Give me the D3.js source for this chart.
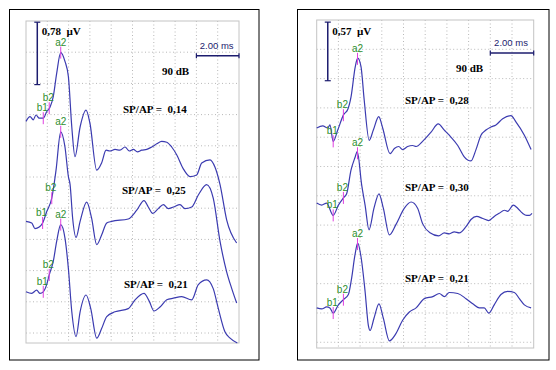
<!DOCTYPE html>
<html>
<head>
<meta charset="utf-8">
<script src="https://cdn.jsdelivr.net/npm/d3@7"></script>
<style>
  html, body { margin: 0; padding: 0; background: #fff; }
  svg { display: block; }
  .serif { font-family: "Liberation Serif", "Times New Roman", serif; font-weight: bold; }
  .sans { font-family: "Liberation Sans", Arial, sans-serif; }
</style>
</head>
<body>
<svg id="chart" width="556" height="370"></svg>
<script>
// time in ms, amplitude in µV (position on the panel's own axis)
const traceA1 = [[0,2.77],[0.19,2.83],[0.34,2.79],[0.47,2.85],[0.62,2.81],[0.81,2.81],[0.97,2.89],[1.13,2.95],[1.28,3.08],[1.44,3.37],[1.63,3.63],[1.83,3.52],[1.99,3.33],[2.15,2.70],[2.30,2.33],[2.54,2.70],[2.82,2.91],[3.00,2.75],[3.32,2.16],[3.55,2.25],[3.76,2.41],[3.94,2.40],[4.18,2.42],[4.41,2.41],[4.65,2.45],[4.85,2.40],[5.04,2.42],[5.23,2.39],[5.43,2.41],[5.67,2.42],[5.90,2.45],[6.14,2.49],[6.37,2.52],[6.61,2.51],[6.84,2.45],[7.08,2.35],[7.38,2.18],[7.70,2.08],[8.01,2.10],[8.25,2.25],[8.64,2.29],[8.87,2.20],[9.11,1.98],[9.42,1.54],[9.89,1.25]];
const traceA2 = [[0,1.52],[0.27,1.50],[0.42,1.43],[0.62,1.45],[0.78,1.50],[0.97,1.64],[1.21,1.81],[1.41,2.16],[1.63,2.64],[1.83,2.45],[1.99,2.08],[2.07,1.98],[2.19,1.56],[2.35,1.32],[2.54,1.52],[2.85,1.76],[3.08,1.56],[3.32,1.23],[3.55,1.35],[3.79,1.50],[4.02,1.52],[4.80,1.55],[5.20,1.66],[5.54,1.78],[5.74,1.70],[5.95,1.62],[6.21,1.68],[6.45,1.73],[6.68,1.68],[6.92,1.70],[7.23,1.73],[7.46,1.68],[7.78,1.70],[8.09,1.85],[8.48,1.98],[8.79,1.81],[9.11,1.27],[9.42,0.89],[9.66,0.68],[9.89,0.50]];
const traceA3 = [[0,0.64],[0.27,0.62],[0.50,0.66],[0.66,0.62],[0.81,0.64],[0.97,0.73],[1.09,0.85],[1.28,1.02],[1.44,1.27],[1.63,1.48],[1.83,1.31],[1.99,0.93],[2.15,0.39],[2.35,0.08],[2.54,0.39],[2.82,0.60],[3.04,0.43],[3.32,0.06],[3.55,0.18],[3.79,0.33],[4.18,0.39],[4.80,0.43],[5.12,0.54],[5.54,0.62],[5.79,0.52],[6.01,0.40],[6.29,0.45],[6.61,0.54],[6.92,0.56],[7.31,0.58],[7.78,0.54],[8.09,0.73],[8.48,0.79],[8.79,0.68],[9.03,0.43],[9.34,0.14],[9.58,0.06],[9.92,0.00]];

const traceB1 = [[0,2.14],[0.28,2.16],[0.51,2.14],[0.61,2.17],[0.76,2.01],[0.97,2.12],[1.24,2.27],[1.43,2.32],[1.58,2.44],[1.78,2.74],[1.89,2.82],[2.04,2.74],[2.19,2.41],[2.42,2.02],[2.61,2.12],[2.86,2.25],[3.04,2.14],[3.38,1.89],[3.58,1.94],[3.78,1.96],[3.96,1.93],[4.19,1.96],[4.42,1.97],[4.58,1.96],[4.88,2.01],[5.27,2.10],[5.60,2.18],[5.88,2.12],[6.11,2.07],[6.50,1.97],[6.80,1.86],[7.11,1.82],[7.34,1.93],[7.57,2.07],[7.80,2.12],[8.03,2.15],[8.26,2.17],[8.57,2.23],[8.95,2.26],[9.18,2.20],[9.57,2.07],[9.88,1.93]];
const traceB2 = [[0,1.41],[0.23,1.39],[0.46,1.41],[0.76,1.29],[1.00,1.39],[1.23,1.46],[1.38,1.50],[1.58,1.73],[1.76,1.85],[1.87,1.91],[2.07,1.59],[2.23,1.39],[2.41,1.15],[2.64,1.36],[2.87,1.50],[3.07,1.36],[3.35,1.10],[3.65,1.20],[4.04,1.36],[4.35,1.42],[4.65,1.36],[4.88,1.21],[5.22,1.12],[5.62,1.09],[5.88,1.12],[6.11,1.11],[6.34,1.13],[6.57,1.12],[6.88,1.18],[7.11,1.25],[7.37,1.28],[7.65,1.26],[7.93,1.24],[8.18,1.28],[8.41,1.31],[8.65,1.34],[8.80,1.33],[9.06,1.39],[9.26,1.36],[9.49,1.31],[9.68,1.29],[9.80,1.29],[9.92,1.31]];
const traceB3 = [[0,0.39],[0.23,0.38],[0.46,0.40],[0.61,0.39],[0.76,0.34],[1.00,0.42],[1.23,0.47],[1.46,0.52],[1.61,0.68],[1.76,0.90],[1.89,1.02],[2.04,0.89],[2.23,0.55],[2.38,0.22],[2.46,0.17],[2.64,0.29],[2.87,0.43],[3.07,0.29],[3.35,0.07],[3.65,0.14],[3.96,0.27],[4.27,0.35],[4.58,0.39],[4.96,0.48],[5.35,0.50],[5.65,0.53],[5.88,0.50],[6.11,0.54],[6.50,0.53],[6.88,0.48],[7.19,0.43],[7.49,0.39],[7.72,0.39],[7.93,0.34],[8.18,0.42],[8.49,0.52],[8.80,0.55],[9.11,0.54],[9.34,0.48],[9.57,0.42],[9.88,0.39]];

// latencies (ms) of the b1, b2, a2 markers per trace
const markersA = [{ b1: 0.81, b2: 1.09, a2: 1.63 }, { b1: 0.78, b2: 1.21, a2: 1.63 }, { b1: 0.81, b2: 1.09, a2: 1.63 }];
const markersB = [{ b1: 0.76, b2: 1.23, a2: 1.88 }, { b1: 0.76, b2: 1.23, a2: 1.88 }, { b1: 0.76, b2: 1.23, a2: 1.88 }];

const ratiosA = ["0,14", "0,25", "0,21"];
const ratiosB = ["0,28", "0,30", "0,21"];

const gainA = 0.78; // µV per 2 divisions
const gainB = 0.57;
const timeBar = 2.0; // ms
const level = "90 dB";

var svg;
var traceColor = "#3b3bb0";
var barColor = "#1c1c6e";
var markColor = "#e040e0";
var labelColor = "#2f8f2f";

document.addEventListener("DOMContentLoaded", function () {
  svg = d3.select("#chart");

  drawPanel({
    frame: { x: 9.5, y: 9.5, w: 249.5, h: 350.5 },
    grid: { x0: 26, x1: 239, y0: 21, y1: 343 },
    vmax: 322 / 80,
    gain: gainA,
    traces: [traceA1, traceA2, traceA3],
    markers: markersA,
    ratios: ratiosA,
    ratioPos: [{ x: 123, y: 113 }, { x: 122, y: 194 }, { x: 124, y: 288 }],
    levelPos: { x: 162, y: 75 },
    vbar: { t: 0.53, top: 4.01 },
    hbarV: 3.59,
  });

  drawPanel({
    frame: { x: 297.5, y: 9.5, w: 251.5, h: 350.5 },
    grid: { x0: 316.7, x1: 533.7, y0: 20, y1: 348 },
    vmax: 328 / 102.8,
    gain: gainB,
    traces: [traceB1, traceB2, traceB3],
    markers: markersB,
    ratios: ratiosB,
    ratioPos: [{ x: 405, y: 104 }, { x: 405, y: 191 }, { x: 405, y: 282 }],
    levelPos: { x: 456, y: 72 },
    vbar: { t: 0.51, top: 3.17 },
    hbarV: 2.87,
  });
});

valueAt = (trace, t) => {
  for (let i = 1; i < trace.length; i++) {
    if (trace[i][0] >= t) {
      let a = trace[i - 1];
      let b = trace[i];
      let k = (t - a[0]) / (b[0] - a[0]);
      return a[1] + k * (b[1] - a[1]);
    }
  }
  return trace[trace.length - 1][1];
};

drawPanel = (p) => {
  var g = svg.append("g");

  // outer frame
  g.append("rect")
    .attr("x", p.frame.x)
    .attr("y", p.frame.y)
    .attr("width", p.frame.w)
    .attr("height", p.frame.h)
    .attr("fill", "#fff")
    .attr("stroke", "#000")
    .attr("stroke-width", 1);

  var x = d3.scaleLinear().domain([0, 10]).range([p.grid.x0, p.grid.x1]);
  var y = d3.scaleLinear().domain([0, p.vmax]).range([p.grid.y1, p.grid.y0]);
  var rowStep = p.gain / 2;

  // grid
  var grid = g.append("g").attr("class", "grid");
  grid
    .selectAll(".vline")
    .data(d3.range(1, 10))
    .join("line")
    .attr("x1", (d) => x(d))
    .attr("x2", (d) => x(d))
    .attr("y1", p.grid.y0)
    .attr("y2", p.grid.y1)
    .attr("stroke", "#b8b8b8")
    .attr("stroke-width", 1)
    .attr("stroke-dasharray", "1,2.5");

  var rows = d3.range(p.vmax - rowStep, 0, -rowStep);
  grid
    .selectAll(".hline")
    .data(rows)
    .join("line")
    .attr("x1", p.grid.x0)
    .attr("x2", p.grid.x1)
    .attr("y1", (d) => y(d))
    .attr("y2", (d) => y(d))
    .attr("stroke", "#b8b8b8")
    .attr("stroke-width", 1)
    .attr("stroke-dasharray", "1,2.5");

  grid
    .append("rect")
    .attr("x", p.grid.x0)
    .attr("y", p.grid.y0)
    .attr("width", p.grid.x1 - p.grid.x0)
    .attr("height", p.grid.y1 - p.grid.y0)
    .attr("fill", "none")
    .attr("stroke", "#c4c4c4")
    .attr("stroke-width", 1);

  // traces
  var line = d3
    .line()
    .x((d) => x(d[0]))
    .y((d) => y(d[1]))
    .curve(d3.curveMonotoneX);

  g.selectAll(".trace")
    .data(p.traces)
    .join("path")
    .attr("class", "trace")
    .attr("d", line)
    .attr("fill", "none")
    .attr("stroke", traceColor)
    .attr("stroke-width", 1.2);

  // markers + labels
  p.traces.forEach((trace, i) => {
    let m = p.markers[i];
    ["b1", "b2", "a2"].forEach((name) => {
      let t = m[name];
      let px = x(t);
      let py = y(valueAt(trace, t));
      g.append("line")
        .attr("x1", px)
        .attr("x2", px)
        .attr("y1", py - 6)
        .attr("y2", py + 6)
        .attr("stroke", markColor)
        .attr("stroke-width", 1);
      g.append("text")
        .attr("class", "sans")
        .attr("x", px - (name == "a2" ? 0 : 1))
        .attr("y", py - 7)
        .attr("text-anchor", "middle")
        .attr("font-size", 10)
        .attr("fill", labelColor)
        .text(name);
    });
  });

  // ratio labels
  g.selectAll(".ratio")
    .data(p.ratios)
    .join("text")
    .attr("class", "serif")
    .attr("x", (d, i) => p.ratioPos[i].x)
    .attr("y", (d, i) => p.ratioPos[i].y)
    .attr("font-size", 11)
    .attr("fill", "#000")
    .style("white-space", "pre")
    .text((d) => "SP/AP =  " + d);

  g.append("text")
    .attr("class", "serif")
    .attr("x", p.levelPos.x)
    .attr("y", p.levelPos.y)
    .attr("font-size", 11)
    .attr("fill", "#000")
    .text(level);

  // amplitude scale bar (2 divisions)
  let bx = x(p.vbar.t);
  let by0 = y(p.vbar.top);
  let by1 = y(p.vbar.top - p.gain);
  g.append("line")
    .attr("x1", bx).attr("x2", bx)
    .attr("y1", by0).attr("y2", by1)
    .attr("stroke", barColor).attr("stroke-width", 1.5);
  [by0, by1].forEach((yy) => {
    g.append("line")
      .attr("x1", bx - 3).attr("x2", bx + 3)
      .attr("y1", yy).attr("y2", yy)
      .attr("stroke", barColor).attr("stroke-width", 1.2);
  });
  g.append("text")
    .attr("class", "serif")
    .attr("x", bx + 4.5)
    .attr("y", by0 + 12.5)
    .attr("font-size", 11)
    .attr("fill", "#000")
    .style("white-space", "pre")
    .text(String(p.gain).replace(".", ",") + "  µV");

  // time scale bar
  let hx0 = x(10 - timeBar);
  let hx1 = x(10);
  let hy = y(p.hbarV);
  g.append("line")
    .attr("x1", hx0).attr("x2", hx1)
    .attr("y1", hy).attr("y2", hy)
    .attr("stroke", barColor).attr("stroke-width", 1.5);
  [hx0, hx1].forEach((xx) => {
    g.append("line")
      .attr("x1", xx).attr("x2", xx)
      .attr("y1", hy - 2.5).attr("y2", hy + 2.5)
      .attr("stroke", barColor).attr("stroke-width", 1.2);
  });
  g.append("text")
    .attr("class", "sans")
    .attr("x", (hx0 + hx1) / 2 - 1)
    .attr("y", hy - 7)
    .attr("text-anchor", "middle")
    .attr("font-size", 9.5)
    .attr("fill", barColor)
    .text(timeBar.toFixed(2) + " ms");
};
</script>
</body>
</html>
